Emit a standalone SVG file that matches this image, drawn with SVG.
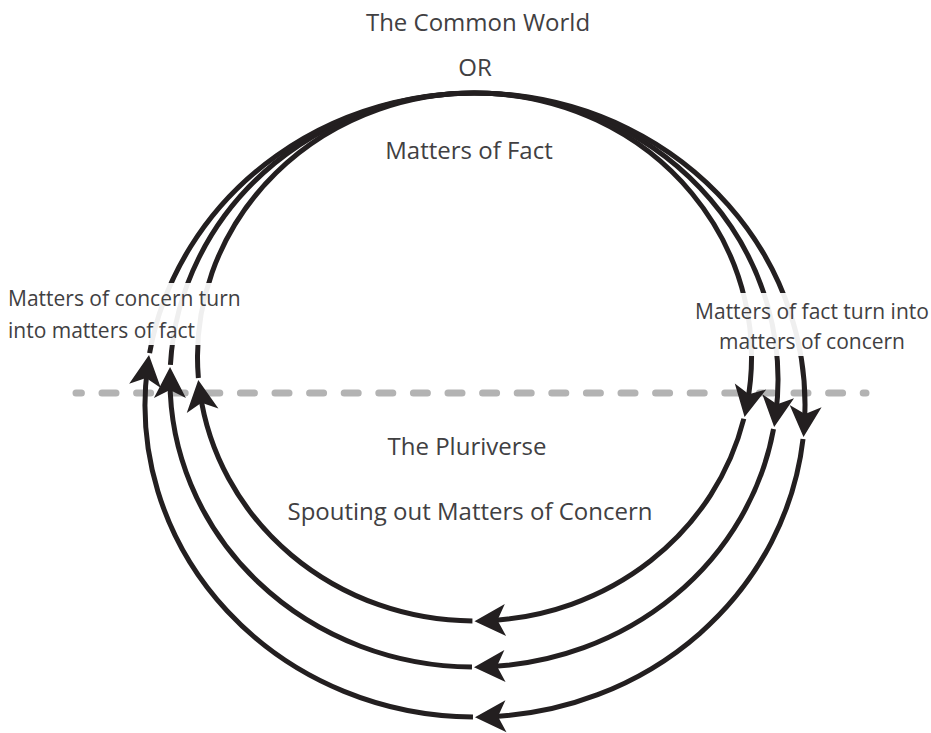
<svg xmlns="http://www.w3.org/2000/svg" width="931" height="733" viewBox="0 0 931 733">
<style>
.t{font-family:"Open Sans","Liberation Sans",sans-serif;fill:#414042;font-size:24px;text-anchor:middle}
.s{font-size:21px}
.arc{fill:none;stroke:#231f20;stroke-width:5;marker-end:url(#ah)}
.halo{fill:#fff;fill-opacity:0.93}
</style>
<defs>
<marker id="ah" markerUnits="userSpaceOnUse" markerWidth="40" markerHeight="40" viewBox="-20 -20 40 40" refX="0" refY="0" orient="auto" overflow="visible">
<path d="M12,0 L-19,-16 L-11,0 L-19,16 Z" fill="#231f20"/>
</marker>
</defs>
<rect width="931" height="733" fill="#fff"/>
<path id="divider" d="M76,393 H866" stroke="#b3b3b3" stroke-width="7" stroke-linecap="round" stroke-dasharray="14 20.6" stroke-dashoffset="8.6" fill="none"/>
<g id="connectors">
<path class="arc" d="M198.38,378.04 A277,264 0 1 1 746.86,405.11"/>
<path class="arc" d="M743.81,418.76 A277,264 0 0 1 486.49,620.75"/>
<path class="arc" d="M472.42,620.99 A277,264 0 0 1 199.93,391.92"/>
<path class="arc" d="M170.42,364.98 A304,287 0 1 1 775.71,415.13"/>
<path class="arc" d="M773.54,429.00 A304,287 0 0 1 485.99,666.78"/>
<path class="arc" d="M471.98,666.99 A304,287 0 0 1 170.0,379.0"/>
<path class="arc" d="M149.59,353.13 A330,312 0 0 1 804.32,425.08"/>
<path class="arc" d="M803.03,439.02 A330,312 0 0 1 486.98,716.79"/>
<path class="arc" d="M472.98,716.99 A330,312 0 0 1 147.46,366.98"/>
</g>
<g id="common-world">
<text class="t" x="478" y="31">The Common World</text>
<text class="t" x="475" y="76">OR</text>
<text class="t" x="469" y="159">Matters of Fact</text>
</g>
<g id="pluriverse">
<text class="t" x="467" y="455">The Pluriverse</text>
<text class="t" x="470" y="520">Spouting out Matters of Concern</text>
</g>
<g id="label-left">
<rect class="halo" x="0" y="283" width="250" height="62"/>
<text class="t s" x="8" y="306" style="text-anchor:start">Matters of concern turn</text>
<text class="t s" x="8" y="338" style="text-anchor:start">into matters of fact</text>
</g>
<g id="label-right">
<rect class="halo" x="690" y="293" width="241" height="63"/>
<text class="t s" x="812" y="319">Matters of fact turn into</text>
<text class="t s" x="812" y="349">matters of concern</text>
</g>
</svg>
